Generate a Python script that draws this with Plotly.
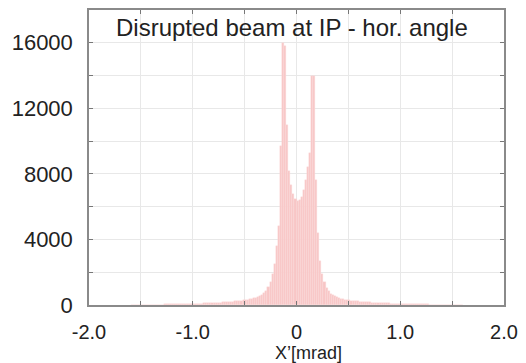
import numpy as np
import plotly.graph_objects as go

# Histogram of horizontal angle X' [mrad], bin width 0.02 mrad, from -1.6 to 1.6
bin_start = -1.6
bin_width = 0.02
counts_left = [
    8, 9, 10, 11, 12, 13, 14, 15, 17, 18,
    20, 21, 23, 25, 27, 29, 31, 33, 35, 37,
    40, 42, 45, 48, 51, 54, 57, 60, 64, 68,
    72, 76, 80, 85, 90, 95, 100, 106, 112, 118,
    125, 132, 140, 148, 156, 165, 175, 186, 198, 210,
    223, 237, 252, 268, 286, 306, 328, 352, 380, 412,
    440, 480, 530, 600, 720, 880, 1100, 1400, 1900, 2500,
    3600, 4800, 9700, 16000, 15800, 11000, 8200, 7300, 6800, 6450,
]
counts_right = [
    6350, 6400, 6600, 7000, 7600, 8400, 9300, 14000, 14000, 7600,
    4400, 2700, 1900, 1400, 1050, 850, 700, 600, 520, 460,
    412, 380, 352, 328, 306, 286, 268, 252, 237, 223,
    210, 198, 186, 175, 165, 156, 148, 140, 132, 125,
    118, 112, 106, 100, 95, 90, 85, 80, 76, 72,
    68, 64, 60, 57, 54, 51, 48, 45, 42, 40,
    37, 35, 33, 31, 29, 27, 25, 23, 21, 20,
    18, 17, 15, 14, 13, 12, 11, 10, 9, 8,
]
counts = counts_left + counts_right

x_tickvals = [-2, -1, 0, 1, 2]
x_ticktext = ["-2.0", "-1.0", "0", "1.0", "2.0"]
y_tickvals = [0, 4000, 8000, 12000, 16000]
y_ticktext = ["0", "4000", "8000", "12000", "16000"]
title_text = "Disrupted beam at IP - hor. angle"
x_title = "X’[mrad]"

centers = bin_start + bin_width * (np.arange(len(counts)) + 0.5)

fig = go.Figure()
fig.add_trace(go.Bar(
    x=centers, y=counts, width=bin_width,
    marker=dict(color="rgb(248,198,198)",
                line=dict(color="rgb(252,222,222)", width=0.4)),
    showlegend=False,
))

FAM = "Liberation Sans, Arial, sans-serif"
tick_font = dict(family=FAM, size=22, color="#222")
xtick_font = dict(family=FAM, size=20, color="#222")
fig.update_layout(
    width=526, height=363,
    margin=dict(l=89, r=21, t=8, b=58),
    paper_bgcolor="white", plot_bgcolor="white",
    bargap=0,
    font=tick_font,
    xaxis=dict(
        range=[-2, 2], tickvals=x_tickvals, ticktext=x_ticktext,
        showgrid=True, gridcolor="#e8e8e8", gridwidth=1,
        ticks="inside", ticklen=4, tickcolor="#777",
        minor=dict(dtick=0.5, showgrid=True, gridcolor="#e8e8e8",
                   ticks="inside", ticklen=4, tickcolor="#777"),
        showline=True, linecolor="#8a8a8a", linewidth=1.5, mirror="ticks",
        zeroline=False, tickfont=xtick_font, ticklabelstandoff=8,
    ),
    yaxis=dict(
        range=[0, 18000], tickvals=y_tickvals, ticktext=y_ticktext,
        showgrid=True, gridcolor="#e8e8e8", gridwidth=1,
        ticks="inside", ticklen=4, tickcolor="#777",
        minor=dict(dtick=2000, showgrid=True, gridcolor="#e8e8e8",
                   ticks="inside", ticklen=4, tickcolor="#777"),
        showline=True, linecolor="#8a8a8a", linewidth=1.5, mirror="ticks",
        zeroline=False, tickfont=tick_font, ticklabelstandoff=10,
    ),
)

fig.add_annotation(
    text=title_text, xref="paper", yref="paper", x=0.49, y=1.0,
    xanchor="center", yanchor="top", yshift=-2, showarrow=False,
    font=dict(family=FAM, size=24, color="#222"),
)
fig.add_annotation(
    text=x_title, xref="paper", yref="paper", x=0.53, y=0,
    xanchor="center", yanchor="top", yshift=-36, showarrow=False,
    font=dict(family=FAM, size=18, color="#222"),
)

fig.write_html("out.html")
